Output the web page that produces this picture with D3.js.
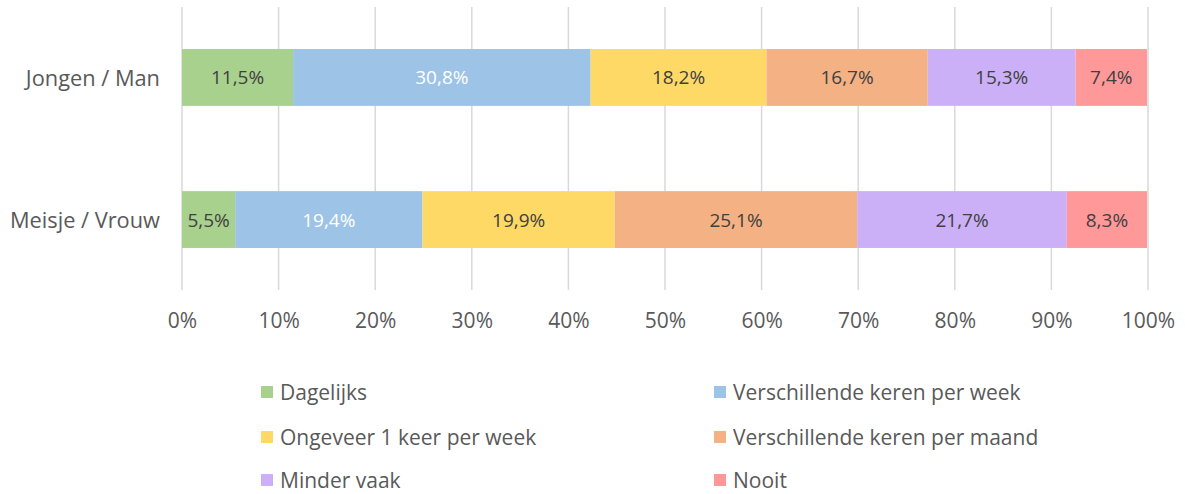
<!DOCTYPE html>
<html>
<head>
<meta charset="utf-8">
<script src="https://cdn.jsdelivr.net/npm/d3@7"></script>
<style>
  body { margin: 0; background: #fff; }
  text { font-family: "Open Sans", sans-serif; }
</style>
</head>
<body>
<svg id="chart" width="1185" height="494"></svg>
<script>
const categories = ["Jongen / Man", "Meisje / Vrouw"];
const seriesNames = ["Dagelijks", "Verschillende keren per week", "Ongeveer 1 keer per week",
                     "Verschillende keren per maand", "Minder vaak", "Nooit"];
const jongenValues = [11.5, 30.8, 18.2, 16.7, 15.3, 7.4];
const meisjeValues = [5.5, 19.4, 19.9, 25.1, 21.7, 8.3];
const tickValues = [0, 10, 20, 30, 40, 50, 60, 70, 80, 90, 100];

const colors = ["#A9D18E", "#9DC3E6", "#FFD966", "#F4B183", "#CCB0F7", "#FF9999"];
const labelColors = ["#404040", "#ffffff", "#404040", "#404040", "#404040", "#404040"];

const svg = d3.select("#chart");

const x = d3.scaleLinear().domain([0, 100]).range([182, 1148]);
const y = d3.scaleBand().domain(categories).range([6.4, 290.6]).paddingInner(0.6).paddingOuter(0.3);

// gridlines
svg.append("g")
  .selectAll("line")
  .data(tickValues)
  .join("line")
    .attr("x1", d => x(d))
    .attr("x2", d => x(d))
    .attr("y1", 7)
    .attr("y2", 290)
    .attr("stroke", "#d9d9d9")
    .attr("stroke-width", 1.5);

// stacked rows
const rows = categories.map((c, i) => {
  const vals = i === 0 ? jongenValues : meisjeValues;
  let acc = 0;
  return vals.map((v, k) => {
    const seg = { cat: c, k, v, x0: acc, x1: acc + v };
    acc += v;
    return seg;
  });
}).flat();

const bars = svg.append("g");

bars.selectAll("rect")
  .data(rows)
  .join("rect")
    .attr("x", d => x(d.x0))
    .attr("width", d => x(d.x1) - x(d.x0))
    .attr("y", d => y(d.cat))
    .attr("height", y.bandwidth())
    .attr("fill", d => colors[d.k]);

bars.selectAll("text")
  .data(rows)
  .join("text")
    .attr("x", d => (x(d.x0) + x(d.x1)) / 2)
    .attr("y", d => y(d.cat) + y.bandwidth() / 2)
    .attr("text-anchor", "middle")
    .attr("dominant-baseline", "central")
    .attr("font-size", 19)
    .attr("fill", d => labelColors[d.k])
    .text(d => d.v.toFixed(1).replace(".", ",") + "%");

// category labels
svg.append("g")
  .selectAll("text")
  .data(categories)
  .join("text")
    .attr("x", 160)
    .attr("y", d => y(d) + y.bandwidth() / 2)
    .attr("text-anchor", "end")
    .attr("dominant-baseline", "central")
    .attr("font-size", 21.8)
    .attr("fill", "#595959")
    .text(d => d);

// x axis tick labels
const xAxis = svg.append("g")
  .attr("transform", "translate(0, 310)")
  .call(d3.axisBottom(x).tickValues(tickValues).tickFormat(d => d + "%").tickSize(0));
xAxis.select(".domain").remove();
xAxis.selectAll("text")
  .attr("font-family", "'Open Sans', sans-serif")
  .attr("font-size", 21)
  .attr("fill", "#595959");

// legend
const legendX = [261, 714];
const legendY = [392, 437, 480];
const legend = svg.append("g")
  .selectAll("g")
  .data(seriesNames)
  .join("g")
    .attr("transform", (d, i) => `translate(${legendX[i % 2]}, ${legendY[Math.floor(i / 2)]})`);

legend.append("rect")
  .attr("x", 0)
  .attr("y", -6)
  .attr("width", 12)
  .attr("height", 12)
  .attr("fill", (d, i) => colors[i]);

legend.append("text")
  .attr("x", 19)
  .attr("y", 0)
  .attr("dominant-baseline", "central")
  .attr("font-size", 21)
  .attr("fill", "#595959")
  .text(d => d);
</script>
</body>
</html>
